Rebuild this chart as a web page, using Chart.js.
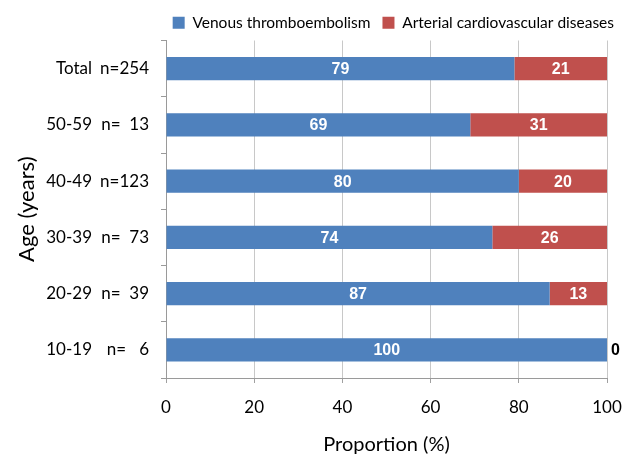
<!DOCTYPE html>
<html>
<head>
<meta charset="utf-8">
<script src="https://cdn.jsdelivr.net/npm/chart.js@4.4.1/dist/chart.umd.min.js"></script>
<style>
  html, body { margin: 0; padding: 0; background: #fff; }
  #wrap { width: 634px; height: 459px; }
</style>
</head>
<body>
<div id="wrap"><canvas id="myChart"></canvas></div>
<script>
// data
var ageGroups = ['Total', '50-59', '40-49', '30-39', '20-29', '10-19'];
var nLabels = ['n=254', 'n=  13', 'n=123', 'n=  73', 'n=  39', 'n=   6'];
var venous = [79, 69, 80, 74, 87, 100];
var arterial = [21, 31, 20, 26, 13, 0];
var xTicks = [0, 20, 40, 60, 80, 100];

var FONT = 'Lato, "Open Sans", sans-serif';

// values written inside the bars
var barLabels = {
  id: 'barLabels',
  afterDatasetsDraw: function (chart) {
    var ctx = chart.ctx;
    ctx.save();
    ctx.font = 'bold 16px "Liberation Sans Narrow", "Liberation Sans", Arial, sans-serif';
    ctx.textBaseline = 'middle';
    chart.data.datasets.forEach(function (ds, i) {
      var meta = chart.getDatasetMeta(i);
      meta.data.forEach(function (bar, j) {
        var v = ds.data[j];
        if (v > 0) {
          ctx.fillStyle = '#ffffff';
          ctx.textAlign = 'center';
          ctx.fillText(v, (bar.x + bar.base) / 2, bar.y + 1);
        } else {
          ctx.fillStyle = '#000000';
          ctx.textAlign = 'left';
          ctx.fillText(v, bar.x + 4, bar.y + 1);
        }
      });
    });
    ctx.restore();
  }
};

var ctx = document.getElementById('myChart').getContext('2d');
var myChart = new Chart(ctx, {
  type: 'bar',
  data: {
    labels: nLabels,
    datasets: [{
      label: 'Venous thromboembolism',
      data: venous,
      backgroundColor: '#4F81BD',
      barPercentage: 0.41,
      categoryPercentage: 1
    }, {
      label: 'Arterial cardiovascular diseases',
      data: arterial,
      backgroundColor: '#C0504D',
      barPercentage: 0.41,
      categoryPercentage: 1
    }]
  },
  options: {
    indexAxis: 'y',
    responsive: true,
    maintainAspectRatio: false,
    animation: false,
    layout: { padding: { top: 3, right: 8, bottom: 0, left: 0 } },
    scales: {
      x: {
        stacked: true,
        min: 0,
        max: 100,
        afterBuildTicks: function (axis) {
          axis.ticks = xTicks.map(function (v) { return { value: v }; });
        },
        grid: { color: '#c8c8c8', tickLength: 5, tickColor: '#a0a0a0' },
        border: { color: '#9a9a9a' },
        ticks: { color: '#000', padding: 14, font: { family: FONT, size: 17 } },
        title: {
          display: true,
          text: 'Proportion (%)',
          color: '#000',
          font: { family: FONT, size: 20 },
          padding: { top: 0, bottom: 2 }
        },
        afterFit: function (axis) {
          axis.height = 81;
          axis.paddingRight = 27;
        }
      },
      y: {
        stacked: true,
        grid: { drawOnChartArea: false, tickLength: 5, tickColor: '#9a9a9a', offset: true },
        border: { color: '#9a9a9a' },
        ticks: { color: '#000', padding: 12, font: { family: FONT, size: 17 } },
        afterFit: function (axis) { axis.width = 66; }
      },
      y2: {
        type: 'category',
        position: 'left',
        labels: ageGroups,
        offset: true,
        grid: { display: false },
        border: { display: false },
        ticks: { color: '#000', padding: 0, font: { family: FONT, size: 17 } },
        title: {
          display: true,
          text: 'Age (years)',
          color: '#000',
          font: { family: FONT, size: 22 },
          padding: { top: 14, bottom: 0 }
        },
        afterFit: function (axis) { axis.width = 100; }
      }
    },
    plugins: {
      legend: {
        position: 'top',
        align: 'end',
        labels: {
          color: '#000',
          boxWidth: 12,
          boxHeight: 12,
          padding: 12,
          font: { family: FONT, size: 15.5 }
        }
      },
      tooltip: { enabled: false }
    }
  },
  plugins: [barLabels]
});
</script>
</body>
</html>
